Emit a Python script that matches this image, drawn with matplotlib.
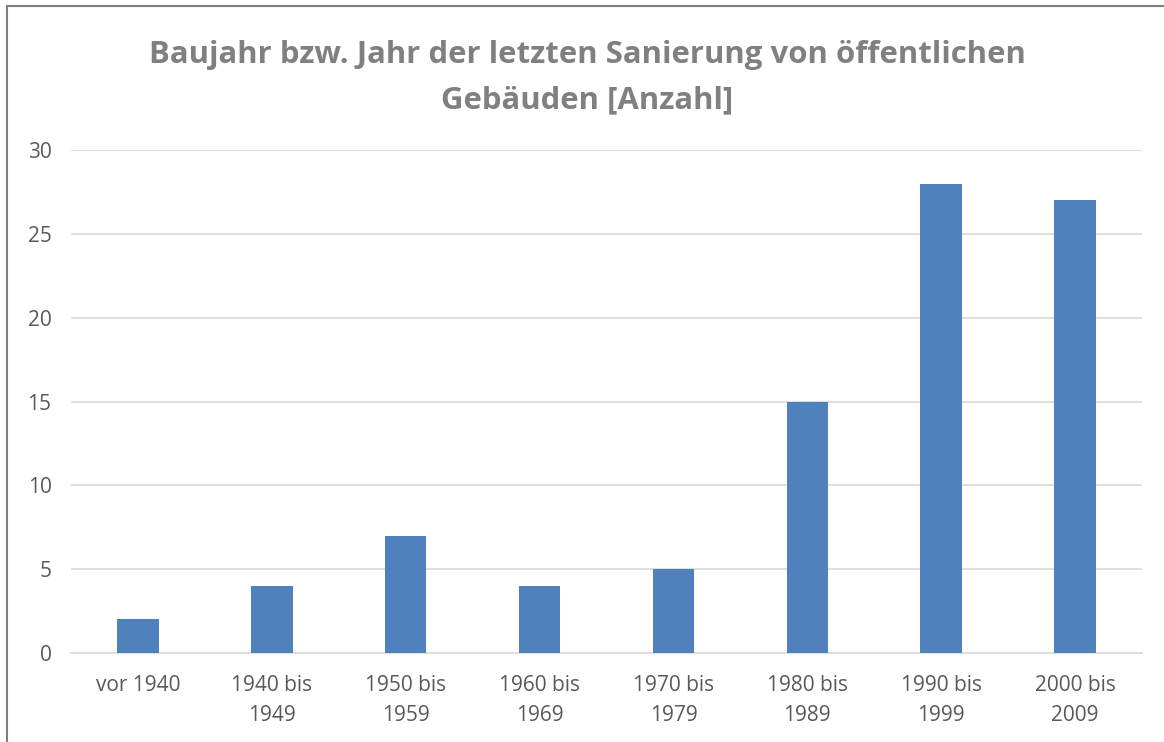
import matplotlib.pyplot as plt
from matplotlib.patches import Rectangle
import numpy as np

plt.rcParams['font.family'] = ['Open Sans', 'DejaVu Sans']

# data
categories = ['vor 1940', '1940 bis\n1949', '1950 bis\n1959', '1960 bis\n1969',
              '1970 bis\n1979', '1980 bis\n1989', '1990 bis\n1999', '2000 bis\n2009']
counts = [2, 4, 7, 4, 5, 15, 28, 27]
y_ticks = [0, 5, 10, 15, 20, 25, 30]
title = 'Baujahr bzw. Jahr der letzten Sanierung von öffentlichen\nGebäuden [Anzahl]'

W, H = 1164, 742
fig = plt.figure(figsize=(W / 100, H / 100), dpi=100)
ax = fig.add_axes([71 / W, 1 - 653 / H, (1142 - 71) / W, (653 - 150) / H])

x = np.arange(len(categories))
ax.bar(x, counts, width=0.31, color='#4f81bd', zorder=3)

ax.set_xlim(-0.5, len(categories) - 0.5)
ax.set_ylim(0, 30)
ax.set_yticks(y_ticks)
ax.set_xticks(x)
ax.set_xticklabels(categories, linespacing=1.55)
ax.grid(axis='y', color='#d9d9d9', linewidth=1.2, zorder=0)
for s in ['top', 'right', 'left']:
    ax.spines[s].set_visible(False)
ax.spines['bottom'].set_color('#d9d9d9')
ax.spines['bottom'].set_linewidth(1.2)
ax.tick_params(axis='both', length=0, colors='#595959', labelsize=15)
ax.tick_params(axis='y', pad=14)
ax.tick_params(axis='x', pad=16)

fig.text(587 / W, 1 - 78 / H, title, ha='center', va='center', fontsize=22.4,
         fontweight='bold', color='#808080', linespacing=1.68)

# chart border
fig.patches.append(Rectangle((7 / W, -0.1), 1.2, 1 - 6 / H + 0.1,
                             transform=fig.transFigure, fill=False,
                             edgecolor='#7f7f7f', linewidth=1.5))

fig.savefig('out.png', dpi=100)
